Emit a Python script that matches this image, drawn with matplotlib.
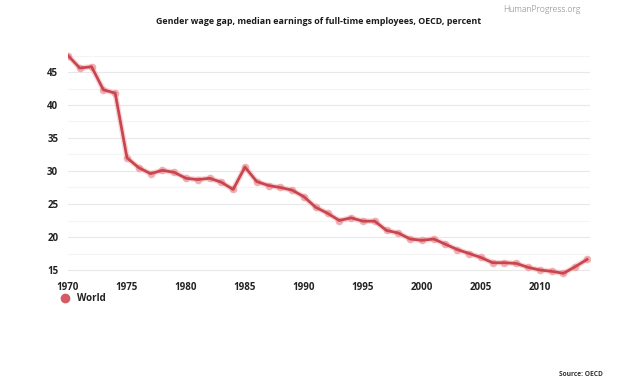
import matplotlib
matplotlib.use("Agg")
import matplotlib.pyplot as plt

plt.rcParams['font.family'] = ['Open Sans', 'DejaVu Sans']

years = list(range(1970, 2015))
world = [47.5, 45.6, 45.8, 42.3, 41.8, 32.0, 30.5, 29.6, 30.1, 29.8,
         28.9, 28.7, 28.9, 28.3, 27.2, 30.6, 28.4, 27.8, 27.5, 27.1,
         26.1, 24.5, 23.6, 22.5, 22.9, 22.4, 22.4, 21.0, 20.6, 19.7,
         19.5, 19.7, 18.9, 18.1, 17.5, 16.9, 16.1, 16.1, 16.0, 15.4,
         15.0, 14.8, 14.5, 15.5, 16.6]
yticks = [15, 20, 25, 30, 35, 40, 45]
xticks = [1970, 1975, 1980, 1985, 1990, 1995, 2000, 2005, 2010]

W, H = 624, 386
fig = plt.figure(figsize=(W/100, H/100), dpi=100)
ax = fig.add_axes([68/W, 1-276.6/H, (590-68)/W, (276.6-52.2)/H])

line_c = '#c9464f'
for v in yticks:
    ax.axhline(v, color='#e8e8e8', lw=0.8, zorder=0)
for v in [17.5, 22.5, 27.5, 32.5, 37.5, 42.5, 47.5]:
    ax.axhline(v, color='#f4f4f4', lw=0.8, zorder=0)

# soft halo + faint markers
ax.plot(years, world, color='#f0a8ad', lw=4.0, alpha=0.45, zorder=2,
        solid_capstyle='round')
ax.plot(years, world, linestyle='none', marker='o', ms=5.5,
        mfc='#eea2a8', mec='none', alpha=0.85, zorder=3)
ax.plot(years, world, color=line_c, lw=2.0, zorder=4)

ax.set_xlim(1970, 2014.25)
ax.set_ylim(14, 48)
ax.set_yticks(yticks)
ax.set_xticks(xticks)
for s in ax.spines.values():
    s.set_visible(False)
ax.tick_params(length=0, labelsize=7, labelcolor='#222222')
ax.tick_params(axis='y', pad=7)
ax.tick_params(axis='x', pad=4)
for lab in ax.get_xticklabels() + ax.get_yticklabels():
    lab.set_fontweight('bold')

fig.text(319/W, 1-22/H, 'Gender wage gap, median earnings of full-time employees, OECD, percent',
         ha='center', va='center', fontsize=6.4, fontweight='bold', color='#1a1a1a')
fig.text(580/W, 1-10/H, 'HumanProgress.org', ha='right', va='center',
         fontsize=6.2, fontweight='light', color='#777777')
fig.text(603/W, 1-374/H, 'Source: OECD', ha='right', va='center',
         fontsize=4.8, fontweight='bold', color='#333333')

fig.lines.append(plt.Line2D([65/W], [1-298/H], marker='o', ms=6, color='#d65a64',
                            transform=fig.transFigure, figure=fig))
fig.text(77/W, 1-298.5/H, 'World', ha='left', va='center', fontsize=7,
         fontweight='bold', color='#222222')

fig.savefig('out.png', dpi=100, facecolor='white')
